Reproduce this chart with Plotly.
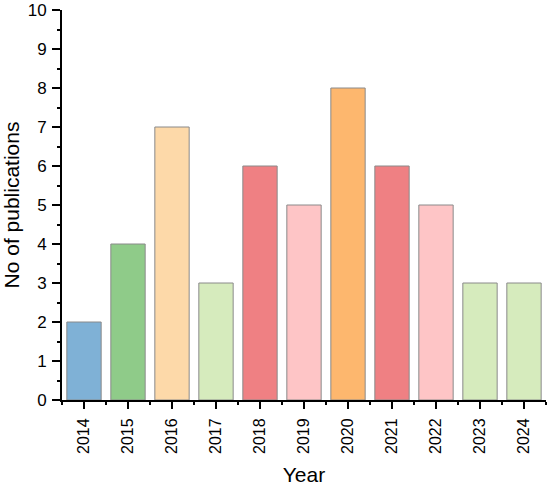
import plotly.graph_objects as go

# Data
years = [2014, 2015, 2016, 2017, 2018, 2019, 2020, 2021, 2022, 2023, 2024]
counts = [2, 4, 7, 3, 6, 5, 8, 6, 5, 3, 3]
colors = ["#7FB1D6", "#8FCB89", "#FDD9A9", "#D6EBBD", "#EF8083", "#FEC5C6",
          "#FDB76E", "#EF8083", "#FEC5C6", "#D6EBBD", "#D6EBBD"]

fig = go.Figure(go.Bar(
    x=years,
    y=counts,
    width=0.78,
    marker=dict(color=colors, line=dict(color="#8a8a8a", width=1)),
))

fig.update_layout(
    width=550,
    height=488,
    margin=dict(l=62, r=4, t=10, b=88),
    plot_bgcolor="white",
    paper_bgcolor="white",
    font=dict(family="Liberation Sans, Arial", size=16, color="black"),
    showlegend=False,
)

fig.update_xaxes(
    range=[2013.5, 2024.5],
    tickvals=years,
    ticktext=[str(y) for y in years],
    tickangle=-90,
    tickfont=dict(size=16),
    ticks="outside",
    ticklen=7,
    tickwidth=2,
    tickcolor="black",
    ticklabelstandoff=3,
    minor=dict(tick0=2013.5, dtick=1, ticks="outside", ticklen=3, tickwidth=2, tickcolor="black"),
    showline=True,
    linecolor="black",
    linewidth=2,
    showgrid=False,
    zeroline=False,
    automargin=False,
    title=dict(text="Year", font=dict(size=21), standoff=14),
)

fig.update_yaxes(
    range=[0, 10],
    dtick=1,
    tickfont=dict(size=17),
    ticks="outside",
    ticklen=8,
    tickwidth=2,
    tickcolor="black",
    ticklabelstandoff=2,
    minor=dict(dtick=0.5, ticks="outside", ticklen=3, tickwidth=2, tickcolor="black"),
    showline=True,
    linecolor="black",
    linewidth=2,
    showgrid=False,
    zeroline=False,
    automargin=False,
    title=dict(text="No of publications", font=dict(size=21), standoff=5),
)

# drop the default 8px page margin so the figure sits at the window corner
fig.write_html("out.html", config={"displayModeBar": False},
               post_script="document.body.style.margin='0';")
